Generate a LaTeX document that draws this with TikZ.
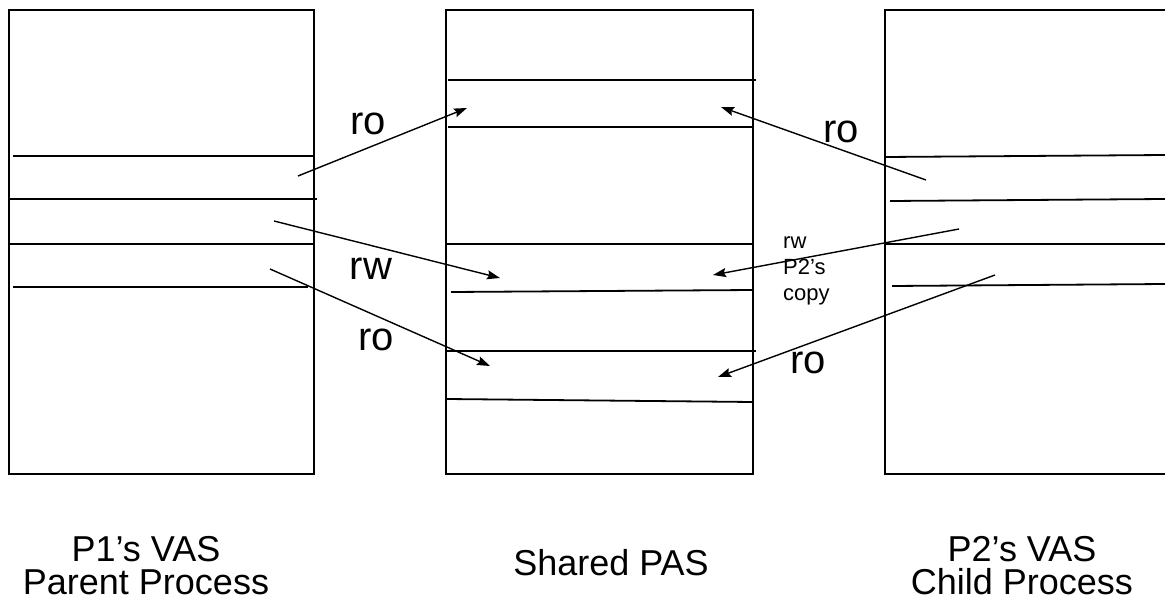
\documentclass[tikz,border=0pt]{standalone}
\usepackage{fontspec}
\setmainfont{Liberation Sans}
\usetikzlibrary{arrows.meta}

\tikzset{
    mem/.style={line width=1.8pt},
    map/.style={line width=1.4pt, -{Stealth[length=13pt, width=9pt, inset=2pt]}},
    perm/.style={font=\fontsize{40}{48}\selectfont, anchor=base, inner sep=0pt},
    caption/.style={font=\fontsize{36}{33}\selectfont, align=center, anchor=base, inner sep=0pt}
}

\begin{document}
\begin{tikzpicture}[x=1pt, y=-1pt]
    \useasboundingbox (0,0) rectangle (1165,610);
    \fill[white] (0,0) rectangle (1165,610);

    % P1 (parent)
    \draw[mem] (9,10) rectangle (314,474);
    \draw[mem] (13,156) -- (314,156);
    \draw[mem] (9,199) -- (317,199);
    \draw[mem] (9,244) -- (314,244);
    \draw[mem] (13,287) -- (308,287);

    % shared physical memory
    \draw[mem] (446,10) rectangle (753,474);
    \draw[mem] (448,80) -- (756,80);
    \draw[mem] (448,127) -- (753,127);
    \draw[mem] (446,244) -- (753,244);
    \draw[mem] (451,292) -- (753,290);
    \draw[mem] (446,351) -- (756,351);
    \draw[mem] (447,399) -- (753,402);

    % P2 (child), runs off the page
    \draw[mem] (1165,10) -| (885,474) -- (1165,474);
    \draw[mem] (885,157) -- (1165,155);
    \draw[mem] (890,201) -- (1165,199);
    \draw[mem] (885,244) -- (1165,244);
    \draw[mem] (892,286) -- (1165,284);

    \coordinate (p1a) at (298,176);
    \coordinate (p1b) at (274,221);
    \coordinate (p1c) at (270,269);
    \coordinate (p2a) at (926,180);
    \coordinate (p2b) at (959,229);
    \coordinate (p2c) at (995,275);
    \coordinate (sa) at (467,108);
    \coordinate (sb) at (500,278);
    \coordinate (sc) at (490,366);
    \coordinate (sa2) at (721,107);
    \coordinate (sb2) at (713,275);
    \coordinate (sc2) at (718,377);

    \draw[map] (p1a) -- (sa);
    \draw[map] (p1b) -- (sb);
    \draw[map] (p1c) -- (sc);
    \draw[map] (p2a) -- (sa2);
    \draw[map] (p2b) -- (sb2);
    \draw[map] (p2c) -- (sc2);

    \node[perm] (ro1) at (368,134) {ro};
    \node[perm] (rw1) at (371,279) {rw};
    \node[perm] (ro2) at (376,350) {ro};
    \node[perm] (ro3) at (841,142) {ro};
    \node[perm] (ro4) at (808,373) {ro};
    % base of a multi-line node sits on its last line
    \node[font=\fontsize{22}{26}\selectfont, align=left, anchor=base west, inner sep=0pt]
        (rwcopy) at (783,300) {rw\\P2’s\\copy};

    \node[caption] (p1cap) at (146,594) {P1’s VAS\\Parent Process};
    \node[caption] (pascap) at (611,575) {Shared PAS};
    \node[caption] (p2cap) at (1022,594) {P2’s VAS\\Child Process};
\end{tikzpicture}
\end{document}
